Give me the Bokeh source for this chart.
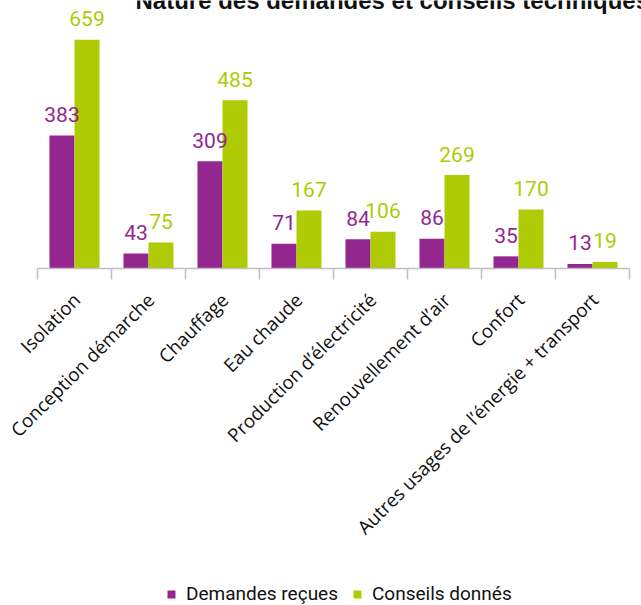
import math
from bokeh.plotting import figure
from bokeh.models import (ColumnDataSource, Range1d, LinearAxis, FixedTicker,
                          Legend, LegendItem, Label)
from bokeh.core.properties import value
from bokeh.embed import file_html
from bokeh.resources import INLINE

# ---- data ----
categories = ["Isolation", "Conception démarche", "Chauffage", "Eau chaude",
              "Production d’électricité", "Renouvellement d’air", "Confort",
              "Autres usages de l’énergie + transport"]
demandes = [383, 43, 309, 71, 84, 86, 35, 13]
conseils = [659, 75, 485, 167, 106, 269, 170, 19]
series_names = ["Demandes reçues", "Conseils donnés"]
title_text = "Nature des demandes et conseils techniques"

PURPLE = "#93278F"
GREEN = "#AFCB06"
BAR_W = 0.338
LABEL_SHIFT = 0.03

W, H = 641, 605
X0_PX, X1_PX, Y0_PX = 37, 629, 268   # category axis extent and baseline
n = len(categories)
PX_PER_CAT = (X1_PX - X0_PX) / n
PX_PER_UNIT = Y0_PX / 772

centers = [i + 0.5 for i in range(n)]
src = ColumnDataSource(dict(
    xp=[c - BAR_W / 2 for c in centers],
    xg=[c + BAR_W / 2 for c in centers],
    dem=demandes, con=conseils,
    dem_t=[str(v) for v in demandes],
    con_t=[str(v) for v in conseils],
))

p = figure(width=W, height=H, output_backend="svg", toolbar_location=None,
           x_range=Range1d(-X0_PX / PX_PER_CAT, n + (W - X1_PX) / PX_PER_CAT),
           y_range=Range1d(-(H - Y0_PX) / PX_PER_UNIT, 772),
           min_border_left=0, min_border_right=0, min_border_top=0,
           min_border_bottom=0, outline_line_color=None,
           x_axis_type=None, y_axis_type=None)
p.grid.visible = False
p.background_fill_color = "white"
p.border_fill_color = "white"

r1 = p.vbar(x="xp", top="dem", width=BAR_W, source=src, fill_color=PURPLE, line_color=None)
r2 = p.vbar(x="xg", top="con", width=BAR_W, source=src, fill_color=GREEN, line_color=None)

p.text(x="xp", y="dem", text="dem_t", source=src, text_align="center",
       text_baseline="alphabetic", y_offset=-21, text_color=PURPLE,
       text_font=value("Roboto"), text_font_size="21px")
p.text(x="xg", y="con", text="con_t", source=src, text_align="center",
       text_baseline="alphabetic", y_offset=-21, text_color=GREEN,
       text_font=value("Roboto"), text_font_size="21px")

tick_pos = [c + LABEL_SHIFT for c in centers]
xaxis = LinearAxis(
    fixed_location=0, bounds=(0, n),
    ticker=FixedTicker(ticks=tick_pos, minor_ticks=list(range(n + 1))),
    major_label_overrides={t: name for t, name in zip(tick_pos, categories)},
    major_label_orientation=math.pi / 4,
    major_label_standoff=17,
    major_label_text_font="Open Sans",
    major_label_text_font_size="18.8px",
    major_label_text_color="#111111",
    major_tick_line_color=None,
    minor_tick_out=11, minor_tick_in=0,
    minor_tick_line_color="#BFBFBF", minor_tick_line_width=1.5,
    axis_line_color="#BFBFBF", axis_line_width=1.5,
)
p.add_layout(xaxis, "below")

legend = Legend(items=[LegendItem(label=series_names[0], renderers=[r1]),
                       LegendItem(label=series_names[1], renderers=[r2])],
                orientation="horizontal", location=(166, 0),
                glyph_width=10, glyph_height=10, label_standoff=10, spacing=14,
                padding=0, margin=0, border_line_color=None,
                background_fill_alpha=0,
                label_text_font="Roboto", label_text_font_size="19px",
                label_text_color="#111111")
p.add_layout(legend, "center")

title = Label(x=135, y=H, x_units="screen", y_units="screen", text=title_text,
              text_font="Liberation Sans", text_font_style="bold",
              text_font_size="24px", text_baseline="alphabetic",
              text_color="#111111")
p.add_layout(title)

open("out.html", "w").write(file_html(p, INLINE))
